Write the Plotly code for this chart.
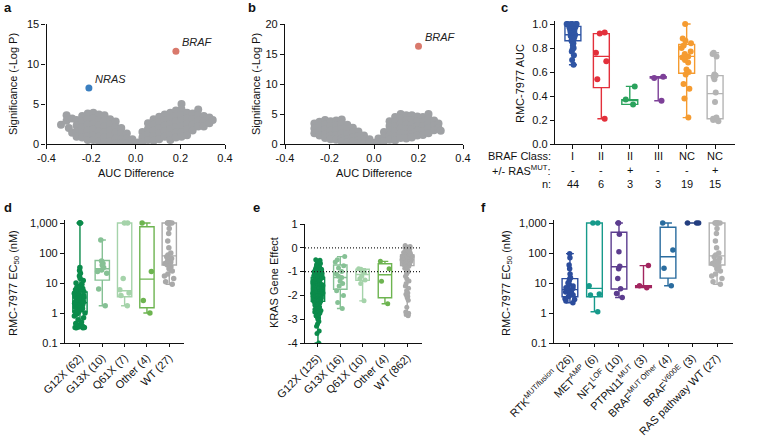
import plotly.graph_objects as go

FONT = "Liberation Sans, Arial, sans-serif"
W, H = 763, 441

# ---------------- data ----------------
# a: volcano, grey cloud given as columns (AUC difference, list of -log P)
a_cloud = [
    (-0.335, [2.4]), (-0.31, [3.6, 2.9]), (-0.3, [2.0]), (-0.285, [3.2, 1.4]),
    (-0.265, [3.0, 2.3, 1.6, 0.9]), (-0.24, [3.5, 2.8, 2.1, 1.4, 0.8]),
    (-0.215, [3.8, 3.1, 2.4, 1.7, 1.0, 0.5]), (-0.19, [3.9, 3.2, 2.5, 1.8, 1.1, 0.5]),
    (-0.165, [3.7, 3.0, 2.3, 1.6, 0.9, 0.3]), (-0.14, [3.6, 2.9, 2.2, 1.5, 0.8, 0.2]),
    (-0.115, [3.1, 2.4, 1.7, 1.0, 0.3]), (-0.09, [2.8, 2.1, 1.4, 0.7, 0.1]),
    (-0.065, [2.0, 1.3, 0.6, 0.1]), (-0.04, [1.3, 0.7, 0.1]), (-0.015, [0.6, 0.1]),
    (0.01, [0.2]), (0.03, [1.5, 0.8, 0.2]), (0.055, [2.6, 1.9, 1.2, 0.5]),
    (0.08, [3.1, 2.4, 1.7, 1.0, 0.4]), (0.105, [3.4, 2.7, 2.0, 1.3, 0.6]),
    (0.13, [3.7, 3.0, 2.3, 1.6, 0.9]), (0.155, [3.9, 3.2, 2.5, 1.8, 1.1, 0.5]),
    (0.18, [4.2, 3.5, 2.8, 2.1, 1.4, 0.8]), (0.205, [5.0, 4.3, 3.6, 2.9, 2.2, 1.5, 0.9]),
    (0.23, [3.9, 3.2, 2.5, 1.8, 1.1]), (0.255, [3.8, 3.1, 2.4, 1.7]),
    (0.28, [4.3, 3.6, 2.9, 2.2]), (0.305, [3.5, 2.8, 2.2]), (0.33, [3.3, 2.6]), (0.345, [3.0]),
]
a_hits = ["NRAS", "BRAF"]
a_hit_x = [-0.21, 0.18]
a_hit_y = [7.0, 11.6]

b_cloud = [
    (-0.268, [3.4, 2.6, 1.8]), (-0.245, [3.7, 2.9, 2.1, 1.4]),
    (-0.22, [4.0, 3.2, 2.4, 1.6, 1.0]), (-0.195, [3.8, 3.0, 2.2, 1.4, 0.8]),
    (-0.17, [3.9, 3.1, 2.3, 1.5, 0.7]), (-0.145, [4.1, 3.3, 2.5, 1.7, 0.9, 0.4]),
    (-0.12, [3.2, 2.4, 1.6, 0.8, 0.3]), (-0.095, [2.7, 1.9, 1.1, 0.4]),
    (-0.07, [2.1, 1.3, 0.6, 0.1]), (-0.045, [1.4, 0.7, 0.1]), (-0.02, [0.8, 0.2]),
    (0.0, [0.2]), (0.02, [0.9, 0.2]), (0.045, [2.0, 1.2, 0.5]),
    (0.07, [3.8, 3.0, 2.2, 1.4, 0.7]), (0.095, [4.5, 3.7, 2.9, 2.1, 1.3, 0.6]),
    (0.12, [5.0, 4.2, 3.4, 2.6, 1.8, 1.0]), (0.145, [4.8, 4.0, 3.2, 2.4, 1.6, 0.9]),
    (0.17, [4.8, 4.0, 3.2, 2.4, 1.6, 1.1]), (0.195, [4.6, 3.8, 3.0, 2.2, 1.4]),
    (0.22, [4.5, 3.7, 2.9, 2.1, 1.5]), (0.245, [5.0, 4.2, 3.4, 2.6, 1.8]),
    (0.27, [3.9, 3.1, 2.3]), (0.29, [3.4, 2.6]), (0.3, [2.2]),
]
b_hits = ["BRAF"]
b_hit_x = [0.2]
b_hit_y = [16.3]

vol_ticks = [-0.4, -0.2, 0.0, 0.2, 0.4]
vol_ticktext = ["-0.4", "-0.2", "0.0", "0.2", "0.4"]

# c: RMC-7977 AUC by BRAF class
c_class = ["I", "II", "II", "III", "NC", "NC"]
c_ras = ["-", "-", "+", "-", "-", "+"]
c_n = ["44", "6", "3", "3", "19", "15"]
c_colors = ["#2f55a4", "#e3303b", "#2aa25c", "#7d4098", "#f59b30", "#b4b4b4"]
c_points = [
    [1.0, 1.0, 1.0, 1.0, 1.0, 1.0, 0.99, 0.99, 0.99, 0.99, 0.98, 0.98, 0.98, 0.98,
     0.97, 0.97, 0.97, 0.96, 0.96, 0.96, 0.95, 0.95, 0.95, 0.94, 0.94, 0.93, 0.93,
     0.92, 0.91, 0.90, 0.90, 0.89, 0.88, 0.87, 0.86, 0.85, 0.84, 0.82, 0.80, 0.79,
     0.77, 0.74, 0.70, 0.66],
    [0.93, 0.92, 0.76, 0.69, 0.54, 0.21],
    [0.48, 0.37, 0.33],
    [0.56, 0.55, 0.36],
    [1.0, 0.88, 0.86, 0.84, 0.82, 0.80, 0.77, 0.75, 0.73, 0.72, 0.70, 0.68, 0.62,
     0.60, 0.58, 0.50, 0.46, 0.38, 0.22],
    [0.76, 0.75, 0.73, 0.58, 0.57, 0.56, 0.54, 0.43, 0.35, 0.22, 0.21, 0.21, 0.20, 0.20, 0.19],
]
# q1, median, q3, min, max
c_stats = [
    (0.86, 0.91, 0.98, 0.66, 1.0),
    (0.47, 0.73, 0.92, 0.21, 0.93),
    (0.33, 0.37, 0.37, 0.33, 0.48),
    (0.55, 0.55, 0.56, 0.36, 0.56),
    (0.59, 0.73, 0.83, 0.22, 1.0),
    (0.21, 0.42, 0.57, 0.19, 0.76),
]

# d: RMC-7977 EC50 by KRAS mutation
d_groups = ["G12X (62)", "G13X (10)", "Q61X (7)", "Other (4)", "WT (27)"]
kras_colors = ["#0b8b4b", "#86c195", "#a5d3aa", "#6db450", "#a9a9a9"]
wt_ec50 = [1000, 1000, 1000, 1000, 1000, 1000, 1000, 650, 450, 250, 150, 100, 85, 75,
           65, 55, 50, 45, 40, 35, 30, 25, 20, 17, 14, 11, 9]
d_points = [
    [1000, 1000, 1000, 33, 26, 21, 17, 14, 12, 10, 9, 8, 7.2, 6.5, 6, 5.5, 5.2, 4.8,
     4.5, 4.2, 4, 3.8, 3.5, 3.3, 3.1, 3, 2.8, 2.7, 2.5, 2.4, 2.3, 2.2, 2.1, 2, 1.9,
     1.85, 1.8, 1.7, 1.6, 1.55, 1.5, 1.4, 1.3, 1.2, 1.1, 1.05, 1, 0.9, 0.8, 0.7, 0.6,
     0.5, 0.45, 0.4, 0.38, 0.36, 0.35, 0.34, 0.33, 0.33, 0.32, 0.32],
    [270, 54, 45, 40, 33, 27, 24, 21, 6.3, 1.75],
    [1000, 1000, 14, 6, 4.6, 3.8, 1.75],
    [1000, 24, 2.6, 1.0],
    wt_ec50,
]
wt_ec50_stats = (40, 80, 1000, 9, 1000)
d_stats = [
    (1.1, 2.2, 5.0, 0.32, 1000),
    (12.5, 30, 56, 1.75, 270),
    (3.5, 5.5, 1000, 1.75, 1000),
    (1.5, 13.5, 750, 1.0, 1000),
    wt_ec50_stats,
]
log_ticks = [0.1, 1, 10, 100, 1000]
log_ticktext = ["0.1", "1", "10", "100", "1,000"]

# e: KRAS gene effect
e_groups = ["G12X (125)", "G13X (16)", "Q61X (10)", "Other (4)", "WT (862)"]
e_points = [
    [-0.5, -0.52, -0.56, -0.6, -0.63, -0.66, -0.7, -0.74, -0.78, -0.8, -0.84, -0.87,
     -0.9, -0.93, -0.96, -0.98, -1.0, -1.02, -1.05, -1.07, -1.1, -1.12, -1.14, -1.16,
     -1.18, -1.2, -1.22, -1.24, -1.26, -1.28, -1.3, -1.32, -1.34, -1.36, -1.38, -1.4,
     -1.42, -1.44, -1.46, -1.48, -1.49, -1.5, -1.52, -1.54, -1.56, -1.58, -1.6, -1.62,
     -1.64, -1.66, -1.68, -1.7, -1.72, -1.74, -1.76, -1.78, -1.8, -1.81, -1.83, -1.85,
     -1.86, -1.88, -1.9, -1.91, -1.93, -1.95, -1.96, -1.98, -1.99, -2.0, -2.02, -2.04,
     -2.06, -2.08, -2.1, -2.12, -2.14, -2.16, -2.18, -2.2, -2.22, -2.24, -2.26, -2.28,
     -2.3, -2.32, -2.35, -2.38, -2.4, -2.43, -2.46, -2.49, -2.52, -2.55, -2.58, -2.6,
     -2.63, -2.66, -2.7, -2.74, -2.78, -2.82, -2.86, -2.9, -2.95, -3.0, -3.1, -3.2,
     -3.3, -3.5, -3.6, -4.0, -1.55, -1.65, -1.75, -1.85, -1.95, -2.05, -2.15, -1.45,
     -1.35, -1.25, -1.15, -2.25, -0.88],
    [-0.37, -0.5, -0.6, -0.75, -0.85, -1.0, -1.1, -1.2, -1.25, -1.4, -1.5, -1.6, -1.8,
     -2.0, -2.3, -2.55],
    [-0.88, -0.9, -0.95, -1.0, -1.05, -1.2, -1.3, -1.35, -1.5, -2.23],
    [-0.57, -0.88, -1.41, -2.35],
    [0.1, 0.05, 0.0, -0.05, -0.1, -0.12, -0.15, -0.18, -0.2, -0.22, -0.24, -0.25,
     -0.27, -0.28, -0.3, -0.3, -0.32, -0.33, -0.35, -0.35, -0.37, -0.38, -0.4, -0.4,
     -0.42, -0.43, -0.45, -0.45, -0.47, -0.48, -0.5, -0.5, -0.52, -0.53, -0.55, -0.55,
     -0.57, -0.58, -0.6, -0.6, -0.62, -0.64, -0.65, -0.67, -0.7, -0.72, -0.75, -0.78,
     -0.8, -0.83, -0.86, -0.9, -0.95, -1.0, -1.05, -1.1, -1.2, -1.3, -1.4, -1.5, -1.6,
     -1.7, -1.8, -1.9, -1.95, -2.0, -2.05, -2.1, -2.2, -2.5, -2.7, -2.75, -2.8, -2.85],
]
e_stats = [
    (-2.25, -1.75, -1.25, -4.0, -0.5),
    (-1.74, -1.25, -0.72, -2.55, -0.37),
    (-1.37, -1.12, -0.9, -2.23, -0.88),
    (-2.1, -1.13, -0.67, -2.35, -0.57),
    (-0.75, -0.5, -0.3, -2.85, 0.1),
]
e_ticks = [1, 0, -1, -2, -3, -4]
e_ticktext = ["1", "0", "-1", "-2", "-3", "-4"]
e_reflines = [0, -1]

# f: RMC-7977 EC50 by RAS pathway alteration
f_groups = ["RTK<sup>MUT/fusion</sup> (26)", "MET<sup>AMP</sup> (6)", "NF1<sup>LOF</sup> (10)",
            "PTPN11<sup>MUT</sup> (3)", "BRAF<sup>MUT Other</sup> (4)", "BRAF<sup>V600E</sup> (3)",
            "RAS pathway WT (27)"]
f_colors = ["#2b4c9c", "#179a8b", "#5c3d8f", "#a2255f", "#2a6c9f", "#243f80", "#b0b0b0"]
f_points = [
    [95, 70, 40, 30, 20, 15, 14, 12, 10, 9, 8, 7, 7, 6.5, 6, 5.5, 5, 5, 4.5, 4, 4, 3.5,
     3, 2.8, 2.5, 2.2],
    [1000, 1000, 8.1, 4.3, 4.0, 1.1],
    [1000, 1000, 420, 110, 36, 30, 14, 6.4, 4.5, 3.3],
    [38, 8.1, 7],
    [1000, 125, 31, 8.1],
    [1000, 1000, 1000],
    wt_ec50,
]
f_stats = [
    (3.5, 6, 14, 2.2, 95),
    (3.5, 6.6, 1000, 1.1, 1000),
    (6.3, 35, 490, 3.3, 1000),
    (7, 8, 8.1, 7, 38),
    (14.5, 75, 720, 8.1, 1000),
    (1000, 1000, 1000, 1000, 1000),
    wt_ec50_stats,
]

# ---------------- figure ----------------
def fx(p):
    return p / W


def fy(p):
    return 1 - p / H


def flatten(cols):
    xs, ys = [], []
    for x, col in cols:
        for y in col:
            xs.append(x)
            ys.append(y)
    return xs, ys


fig = go.Figure()

GREY = "#9fa1a4"
for cloud, xr, yr in [(a_cloud, "x", "y"), (b_cloud, "x2", "y2")]:
    xs, ys = flatten(cloud)
    fig.add_trace(go.Scatter(x=xs, y=ys, mode="markers", xaxis=xr, yaxis=yr,
                             marker=dict(color=GREY, size=8), showlegend=False))

hit_colors = {"NRAS": "#3b7fc0", "BRAF": "#d9796c"}
annots = []
for names, hx, hy, xr, yr in [(a_hits, a_hit_x, a_hit_y, "x", "y"),
                              (b_hits, b_hit_x, b_hit_y, "x2", "y2")]:
    fig.add_trace(go.Scatter(x=hx, y=hy, mode="markers", xaxis=xr, yaxis=yr,
                             marker=dict(color=[hit_colors[n] for n in names], size=7),
                             showlegend=False))
    for n, x, y in zip(names, hx, hy):
        annots.append(dict(x=x, y=y, xref=xr, yref=yr, text="<i>%s</i>" % n, showarrow=False,
                           xanchor="left", yanchor="bottom", xshift=4, yshift=1,
                           font=dict(size=11, color="#222")))


def add_group(xr, yr, pos, pts, stats, color, width, msize, jitter=0.8):
    q1, med, q3, lo, hi = stats
    fig.add_trace(go.Box(x=[pos], q1=[q1], median=[med], q3=[q3], lowerfence=[lo],
                         upperfence=[hi], xaxis=xr, yaxis=yr, width=width, whiskerwidth=0.5,
                         line=dict(color=color, width=1.4), fillcolor="rgba(0,0,0,0)",
                         boxpoints=False, showlegend=False))
    fig.add_trace(go.Box(x=[pos] * len(pts), y=pts, xaxis=xr, yaxis=yr, width=width,
                         boxpoints="all", jitter=jitter, pointpos=0,
                         marker=dict(color=color, size=msize),
                         line=dict(width=0, color="rgba(0,0,0,0)"),
                         fillcolor="rgba(0,0,0,0)", showlegend=False))


for i in range(len(c_class)):
    add_group("x3", "y3", i, c_points[i], c_stats[i], c_colors[i], 0.56, 6)
for i, g in enumerate(d_groups):
    add_group("x4", "y4", g, d_points[i], d_stats[i], kras_colors[i], 0.64, 5.5)
for i, g in enumerate(e_groups):
    add_group("x5", "y5", g, e_points[i], e_stats[i], kras_colors[i], 0.6, 5)
for i, g in enumerate(f_groups):
    # the three BRAF V600E values are identical, so spread them a little wider
    jit = 1.0 if len(set(f_points[i])) == 1 else 0.8
    add_group("x6", "y6", g, f_points[i], f_stats[i], f_colors[i], 0.64, 5.5, jitter=jit)

for v in e_reflines:
    fig.add_shape(type="line", xref="x5 domain", yref="y5", x0=0, x1=1, y0=v, y1=v,
                  line=dict(color="#222", width=1.2, dash="1px,2px"))

axis = dict(showline=True, linecolor="#111", linewidth=1.3, ticks="outside", ticklen=4,
            tickwidth=1.3, tickcolor="#111", showgrid=False, zeroline=False,
            automargin=False, tickfont=dict(size=11, color="#111", family=FONT))

fig.update_layout(
    width=W, height=H, autosize=False, margin=dict(l=0, r=0, t=0, b=0, pad=0),
    plot_bgcolor="white", paper_bgcolor="white", font=dict(family=FONT, color="#111"),
    showlegend=False, boxmode="overlay",
    xaxis=dict(axis, domain=[fx(46.5), fx(225)], range=[-0.4, 0.4], anchor="y",
               tickvals=vol_ticks, ticktext=vol_ticktext),
    yaxis=dict(axis, domain=[fy(144), fy(24)], range=[0, 15], anchor="x",
               tickvals=[0, 5, 10, 15]),
    xaxis2=dict(axis, domain=[fx(285), fx(463)], range=[-0.4, 0.4], anchor="y2",
                tickvals=vol_ticks, ticktext=vol_ticktext),
    yaxis2=dict(axis, domain=[fy(144), fy(24)], range=[0, 20], anchor="x2",
                tickvals=[0, 5, 10, 15, 20]),
    xaxis3=dict(axis, domain=[fx(555), fx(735)], range=[-0.63, 5.7], anchor="y3",
                tickvals=list(range(len(c_class))), showticklabels=False),
    yaxis3=dict(axis, domain=[fy(144), fy(21)], range=[0, 1.025], anchor="x3",
                tickvals=[0, 0.2, 0.4, 0.6, 0.8, 1.0], tickformat=".1f"),
    xaxis4=dict(axis, domain=[fx(65), fx(184)], range=[-0.67, 4.66], anchor="y4",
                type="category", categoryarray=d_groups, tickangle=-45, ticklen=3),
    yaxis4=dict(axis, domain=[fy(343), fy(220)], type="log", range=[-1, 3.1], anchor="x4",
                tickvals=log_ticks, ticktext=log_ticktext),
    xaxis5=dict(axis, domain=[fx(305), fx(422)], range=[-0.58, 4.66], anchor="y5",
                type="category", categoryarray=e_groups, tickangle=-45, ticklen=3),
    yaxis5=dict(axis, domain=[fy(343), fy(224)], range=[-4, 1], anchor="x5",
                tickvals=e_ticks, ticktext=e_ticktext),
    xaxis6=dict(axis, domain=[fx(554), fx(733)], range=[-0.65, 6.65], anchor="y6",
                type="category", categoryarray=f_groups, tickangle=-45, ticklen=3),
    yaxis6=dict(axis, domain=[fy(343), fy(220)], type="log", range=[-1, 3.1], anchor="x6",
                tickvals=log_ticks, ticktext=log_ticktext),
)


def paper_text(text, x, y, size=11, angle=0, xanchor="center", bold=False):
    if bold:
        text = "<b>%s</b>" % text
    annots.append(dict(text=text, x=fx(x), y=fy(y), xref="paper", yref="paper",
                       showarrow=False, textangle=angle, xanchor=xanchor, yanchor="middle",
                       font=dict(size=size, color="#111", family=FONT)))


# panel letters
for letter, x, y in [("a", 8, 8), ("b", 252, 8), ("c", 505, 8),
                     ("d", 8, 207), ("e", 256, 207), ("f", 483, 207)]:
    paper_text(letter, x, y, size=13, bold=True)

# axis titles
paper_text("Significance (-Log P)", 13, 84, angle=-90)
paper_text("Significance (-Log P)", 256, 84, angle=-90)
paper_text("AUC Difference", 136, 173)
paper_text("AUC Difference", 374, 173)
paper_text("RMC-7977 AUC", 520, 84, angle=-90)
paper_text("RMC-7977 EC<sub>50</sub> (nM)", 14, 283, angle=-90)
paper_text("KRAS Gene Effect", 274, 283, angle=-90)
paper_text("RMC-7977 EC<sub>50</sub> (nM)", 507, 283, angle=-90)

# table under panel c
rows = [("BRAF Class:", c_class, 156), ("+/- RAS<sup>MUT</sup>:", c_ras, 170), ("n:", c_n, 184)]
for label, vals, ypx in rows:
    paper_text(label, 553, ypx, xanchor="right")
    for i, v in enumerate(vals):
        annots.append(dict(text=v, x=i, y=fy(ypx), xref="x3", yref="paper", showarrow=False,
                           xanchor="center", yanchor="middle",
                           font=dict(size=11, color="#111", family=FONT)))

fig.update_layout(annotations=annots)

# drop the default page margin so the figure sits at the window's corner
fig.write_html("out.html", config={"displayModeBar": False},
               post_script="document.body.style.margin='0px';")
